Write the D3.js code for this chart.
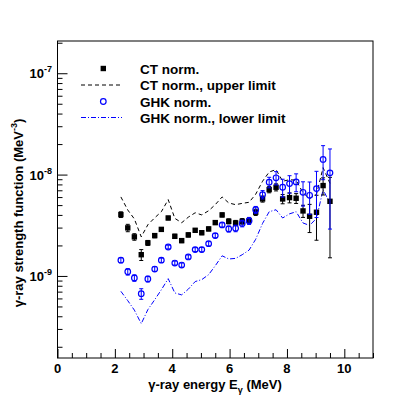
<!DOCTYPE html>
<html>
<head>
<meta charset="utf-8">
<script src="https://cdn.jsdelivr.net/npm/d3@7"></script>
<style>
  html, body { margin: 0; padding: 0; background: #fff; }
  svg { display: block; }
  text { font-family: "Liberation Sans", Arial, Helvetica, sans-serif; font-weight: bold; }
</style>
</head>
<body>
<svg id="chart" width="415" height="399"></svg>
<script>
// ---- data ----
const energies = [2.21,2.45,2.68,2.92,3.15,3.39,3.62,3.86,4.09,4.33,4.56,4.80,5.03,5.27,5.50,5.74,
                  5.97,6.21,6.44,6.68,6.91,7.15,7.38,7.62,7.85,8.09,8.32,8.56,8.79,9.03,9.26,9.50];
const ctValues = [4.03e-9,2.98e-9,2.43e-9,1.62e-9,2.12e-9,2.50e-9,2.88e-9,3.73e-9,2.46e-9,2.23e-9,2.54e-9,
                  2.82e-9,2.67e-9,2.91e-9,3.36e-9,4.00e-9,3.46e-9,3.33e-9,3.46e-9,3.52e-9,4.25e-9,5.75e-9,
                  7.11e-9,7.50e-9,5.75e-9,5.93e-9,5.84e-9,4.38e-9,3.88e-9,4.25e-9,7.79e-9,5.45e-9];
const ctErrors = [0.26e-9,0.25e-9,0.18e-9,0.20e-9,0.12e-9,0.12e-9,0.12e-9,0.15e-9,0.12e-9,0.10e-9,0.12e-9,
                  0.12e-9,0.12e-9,0.13e-9,0.15e-9,0.18e-9,0.20e-9,0.20e-9,0.22e-9,0.22e-9,0.30e-9,0.40e-9,
                  0.50e-9,0.60e-9,0.60e-9,0.67e-9,0.65e-9,0.60e-9,1.20e-9,2.00e-9,1.50e-9,3.94e-9];
const ghkValues = [1.43e-9,1.10e-9,9.55e-10,6.68e-10,9.33e-10,1.17e-9,1.43e-9,1.93e-9,1.34e-9,1.28e-9,1.54e-9,
                   1.82e-9,1.82e-9,2.08e-9,2.50e-9,3.19e-9,2.91e-9,2.95e-9,3.30e-9,3.50e-9,4.50e-9,6.35e-9,
                   8.40e-9,9.30e-9,7.50e-9,8.15e-9,8.47e-9,6.69e-9,6.25e-9,7.27e-9,1.41e-8,1.04e-8];
const ghkErrors = [0.08e-9,0.08e-9,0.07e-9,0.08e-9,0.06e-9,0.06e-9,0.07e-9,0.08e-9,0.06e-9,0.06e-9,0.07e-9,
                   0.08e-9,0.09e-9,0.10e-9,0.12e-9,0.15e-9,0.20e-9,0.22e-9,0.25e-9,0.28e-9,0.35e-9,0.60e-9,
                   1.00e-9,1.40e-9,1.50e-9,1.60e-9,1.70e-9,1.80e-9,2.20e-9,3.50e-9,5.20e-9,7.50e-9];
const ctUpper = [6.02e-9,4.47e-9,3.65e-9,2.43e-9,3.20e-9,3.75e-9,4.30e-9,5.66e-9,3.70e-9,3.35e-9,3.80e-9,
                 4.20e-9,4.00e-9,4.40e-9,5.05e-9,6.02e-9,5.25e-9,5.05e-9,5.20e-9,5.33e-9,6.40e-9,8.60e-9,
                 1.06e-8,1.12e-8,8.60e-9,8.90e-9,8.80e-9,6.60e-9,5.80e-9,6.40e-9,1.17e-8,8.20e-9];
const ghkLower = [7.05e-10,5.70e-10,4.60e-10,3.38e-10,4.65e-10,5.83e-10,7.30e-10,9.40e-10,6.80e-10,6.50e-10,7.40e-10,
                  8.80e-10,9.20e-10,1.03e-9,1.26e-9,1.58e-9,1.47e-9,1.49e-9,1.62e-9,1.80e-9,2.30e-9,3.30e-9,
                  4.30e-9,4.50e-9,3.73e-9,4.10e-9,4.30e-9,3.33e-9,3.15e-9,3.70e-9,7.10e-9,5.20e-9];
const xTickLabels = [0, 2, 4, 6, 8, 10];
const yDecades = [-10, -9, -8, -7];
const legendLabels = ["CT norm.", "CT norm., upper limit", "GHK norm.", "GHK norm., lower limit"];

// ---- layout ----
const svg = d3.select("#chart");
const mLeft = 57.5, mRight = 373, mTop = 41, mBottom = 358;
const x = d3.scaleLinear().domain([0, 11]).range([mLeft, mRight]);
const y = d3.scaleLog().domain([1.55e-10, 2.08e-7]).range([mBottom, mTop]);
const blue = "#0000ff";

svg.append("rect").attr("width", 415).attr("height", 399).attr("fill", "#fff");

// frame
svg.append("rect").attr("x", mLeft).attr("y", mTop).attr("width", mRight - mLeft).attr("height", mBottom - mTop)
  .attr("fill", "none").attr("stroke", "#000").attr("stroke-width", 1);

// x axis ticks
const xMinor = d3.range(0, 11.01, 0.5);
const gx = svg.append("g").attr("transform", `translate(0,${mBottom})`);
gx.call(d3.axisBottom(x).tickValues(xMinor).tickSize(-5).tickFormat(""))
  .call(g => g.select(".domain").remove());
gx.selectAll(".tick line").attr("stroke", "#000");
gx.selectAll(".tick").filter(d => xTickLabels.includes(d)).select("line").attr("y2", -9);
xTickLabels.forEach(v => {
  svg.append("text").attr("x", x(v)).attr("y", 373).attr("text-anchor", "middle")
    .attr("font-size", 13).text(v);
});

// y axis ticks
const yTicks = [];
for (let e = -10; e <= -7; e++) for (let m = 1; m <= 9; m++) {
  const v = m * Math.pow(10, e);
  if (v >= 1.55e-10 && v <= 2.08e-7) yTicks.push(v);
}
const gy = svg.append("g").attr("transform", `translate(${mLeft},0)`);
gy.call(d3.axisLeft(y).tickValues(yTicks).tickSize(-5).tickFormat(""))
  .call(g => g.select(".domain").remove());
gy.selectAll(".tick line").attr("stroke", "#000");
gy.selectAll(".tick").filter(d => Math.abs(Math.log10(d) - Math.round(Math.log10(d))) < 1e-6)
  .select("line").attr("x2", 10);
yDecades.forEach(e => {
  const v = Math.pow(10, e);
  if (v < 1.55e-10) return;
  const t = svg.append("text").attr("x", 52).attr("y", y(v) + 5).attr("text-anchor", "end").attr("font-size", 13);
  t.append("tspan").text("10");
  t.append("tspan").attr("font-size", 9).attr("dy", -6).text(String(e));
});

// axis titles
const xt = svg.append("text").attr("x", 215).attr("y", 389).attr("text-anchor", "middle").attr("font-size", 13);
xt.append("tspan").text("γ-ray energy E");
xt.append("tspan").attr("font-size", 9).attr("dy", 4).text("γ");
xt.append("tspan").attr("dy", -4).text(" (MeV)");

const yt = svg.append("text").attr("transform", "translate(23,213) rotate(-90)").attr("text-anchor", "middle").attr("font-size", 13);
yt.append("tspan").text("γ-ray strength function (MeV");
yt.append("tspan").attr("font-size", 9).attr("dy", -6).text("-3");
yt.append("tspan").attr("dy", 6).text(")");

// lines
const line = d3.line().x(d => x(d[0])).y(d => y(d[1]));
const plot = svg.append("g");
plot.append("path").datum(energies.map((e, i) => [e, ctUpper[i]])).attr("d", line)
  .attr("fill", "none").attr("stroke", "#000").attr("stroke-width", 1).attr("stroke-dasharray", "4,3");
plot.append("path").datum(energies.map((e, i) => [e, ghkLower[i]])).attr("d", line)
  .attr("fill", "none").attr("stroke", blue).attr("stroke-width", 1).attr("stroke-dasharray", "5,2,1,2");

// error bars
function errorBars(vals, errs, color) {
  const g = plot.append("g").attr("stroke", color).attr("stroke-width", 1);
  energies.forEach((e, i) => {
    const cx = x(e), y1 = y(vals[i] + errs[i]), y2 = y(Math.max(vals[i] - errs[i], 1.6e-10));
    g.append("line").attr("x1", cx).attr("x2", cx).attr("y1", y1).attr("y2", y2);
    g.append("line").attr("x1", cx - 2).attr("x2", cx + 2).attr("y1", y1).attr("y2", y1);
    g.append("line").attr("x1", cx - 2).attr("x2", cx + 2).attr("y1", y2).attr("y2", y2);
  });
}
errorBars(ctValues, ctErrors, "#000");
plot.selectAll(".ct").data(energies).enter().append("rect")
  .attr("x", (d) => x(d) - 2.7).attr("y", (d, i) => y(ctValues[i]) - 2.7)
  .attr("width", 5.4).attr("height", 5.4).attr("fill", "#000");
errorBars(ghkValues, ghkErrors, blue);
plot.selectAll(".ghk").data(energies).enter().append("circle")
  .attr("cx", d => x(d)).attr("cy", (d, i) => y(ghkValues[i])).attr("r", 2.8)
  .attr("fill", "none").attr("stroke", blue).attr("stroke-width", 1.2);

// legend
const ly = [68.5, 85, 101.5, 117.5];
const lg = svg.append("g");
lg.append("rect").attr("x", 103.3 - 2.7).attr("y", ly[0] - 2.7).attr("width", 5.4).attr("height", 5.4).attr("fill", "#000");
lg.append("line").attr("x1", 81).attr("x2", 122).attr("y1", ly[1]).attr("y2", ly[1])
  .attr("stroke", "#000").attr("stroke-dasharray", "4,3");
lg.append("circle").attr("cx", 103.3).attr("cy", ly[2]).attr("r", 2.8).attr("fill", "none").attr("stroke", blue).attr("stroke-width", 1.2);
lg.append("line").attr("x1", 81).attr("x2", 122).attr("y1", ly[3]).attr("y2", ly[3])
  .attr("stroke", blue).attr("stroke-dasharray", "5,2,1,2");
legendLabels.forEach((t, i) => {
  lg.append("text").attr("x", 140).attr("y", ly[i] + 5).attr("font-size", 13.5).text(t);
});
</script>
</body>
</html>
